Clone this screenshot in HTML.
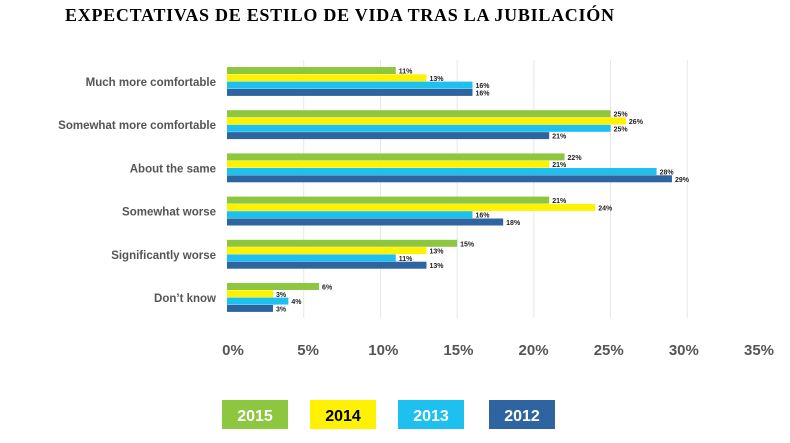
<!DOCTYPE html>
<html><head><meta charset="utf-8"><style>
body{margin:0;background:#fff;width:790px;height:438px;overflow:hidden;font-family:"Liberation Sans",sans-serif}
</style></head><body>
<svg width="790" height="438" id="c">
<text x="65" y="21" font-family="Liberation Serif" font-weight="bold" font-size="18" textLength="549" lengthAdjust="spacing" fill="#000">EXPECTATIVAS DE ESTILO DE VIDA TRAS LA JUBILACIÓN</text>
</svg>
<script>
const categories=["Much more comfortable","Somewhat more comfortable","About the same","Somewhat worse","Significantly worse","Don’t know"];
const years=["2015","2014","2013","2012"];
const s2015=[11,25,22,21,15,6];
const s2014=[13,26,21,24,13,3];
const s2013=[16,25,28,16,11,4];
const s2012=[16,21,29,18,13,3];
const ticks=[0,5,10,15,20,25,30,35];
const colors=["#8dc63f","#fff200","#1ec0ef","#2e64a0"];
const series=[s2015,s2014,s2013,s2012];
const svg=document.getElementById('c');
const NS="http://www.w3.org/2000/svg";
const x=v=>227+v*(764-227)/35;
const tx_=v=>233+v*(759-233)/35;
const gy=i=>67+i*43.2;
function mk(t,a){const e=document.createElementNS(NS,t);for(const k in a)e.setAttribute(k,a[k]);svg.appendChild(e);return e;}
ticks.forEach((t,i)=>{
 if(t>0&&t<35){const l=mk('line',{x1:x(t),x2:x(t),y1:60,y2:318,stroke:'#e6e6e6','stroke-width':1});
 
 }
 const tx=mk('text',{x:tx_(t),y:355,'text-anchor':'middle','font-size':15,'font-weight':'bold',fill:'#555'});
 tx.textContent=t+'%';
 
 
});
categories.forEach((c,i)=>{
 const t=mk('text',{x:216,y:gy(i)+19,'text-anchor':'end','font-size':11.5,'font-weight':'bold',fill:'#555'});
 t.textContent=c;
 
 
 series.forEach((s,j)=>{
  const y=gy(i)+j*7.3;
  const r=mk('rect',{x:x(0),y:y,width:x(s[i])-x(0),height:7,fill:colors[j]});
  
  
  const v=mk('text',{x:x(s[i])+3,y:y+6.5,'font-size':7,'font-weight':'bold',fill:'#222'});
  v.textContent=s[i]+'%';
  
  
 });
});
const lx=[222,310,398,489];
years.forEach((yr,j)=>{
 const r=mk('rect',{x:lx[j],y:400,width:66,height:29,fill:colors[j]});
 
 
 const t=mk('text',{x:lx[j]+33,y:421,'text-anchor':'middle','font-size':16,'font-weight':'bold',fill:j==1?'#000':'#fff'});
 t.textContent=yr;
 
 
});
</script>
</body></html>
